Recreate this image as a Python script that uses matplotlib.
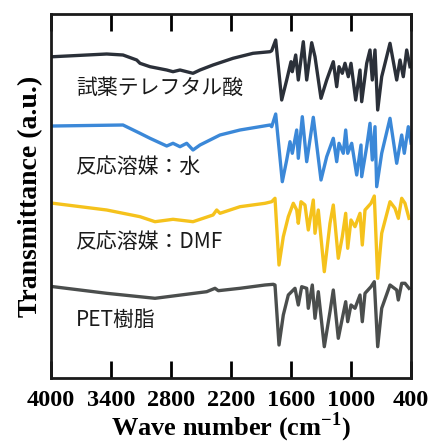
import matplotlib

matplotlib.use("Agg")
import matplotlib.pyplot as plt

# wavenumber (cm-1) / transmittance (a.u., stacked)
tpa_wn = [3977, 3443, 3280, 3143, 3110, 3010, 2843, 2780, 2710, 2643, 2580, 2510, 2380, 2180,
          1980, 1810, 1793, 1753, 1693, 1643, 1600, 1587, 1553, 1527, 1477, 1443, 1393, 1360,
          1300, 1243, 1177, 1143, 1120, 1087, 1060, 1027, 1000, 953, 910, 893, 843, 810, 787,
          760, 733, 693, 610, 543, 510, 477, 443, 410]
tpa_t = [321.3, 324, 323, 318, 314.7, 311.3, 308, 306.3, 308, 306.3, 304.7, 308, 313, 319.7,
         324.7, 326.3, 327.3, 338, 278, 298, 316.3, 306.3, 323, 298, 336.3, 298, 335.3, 321.3,
         279.7, 298, 316.3, 291.3, 311.3, 304.7, 314.7, 301.3, 314.7, 278, 308, 276.3, 314.7,
         328, 298, 328, 268, 301.3, 334.7, 298, 318, 301.3, 328, 311.3]

water_wn = [3977, 3280, 3110, 3010, 2843, 2780, 2710, 2643, 2580, 2510, 2310, 2110, 1810,
            1793, 1753, 1687, 1643, 1610, 1587, 1543, 1527, 1487, 1443, 1377, 1300, 1243,
            1177, 1143, 1120, 1077, 1053, 1033, 993, 943, 900, 893, 843, 810, 787, 760, 743,
            693, 610, 543, 493, 467, 427, 400]
water_t = [252, 253, 244.7, 239.7, 232, 234.7, 231.3, 234.7, 228, 233, 243, 248, 253, 251.3,
           264, 196.3, 218, 236.3, 224.7, 248, 219.7, 261.3, 216.3, 260.7, 198, 221.3, 239.7,
           216.3, 234.7, 224.7, 248, 224.7, 234.7, 203, 233, 201.3, 231.3, 254.7, 218, 251.3,
           191.3, 224.7, 259.7, 214.7, 243, 224.7, 251.3, 235]

dmf_wn = [3977, 3443, 3110, 2960, 2780, 2580, 2380, 2343, 2310, 2110, 1860, 1793, 1760, 1720,
          1677, 1627, 1577, 1543, 1527, 1500, 1460, 1427, 1377, 1360, 1327, 1267, 1210, 1177,
          1127, 1087, 1053, 1033, 1000, 960, 910, 887, 860, 800, 767, 733, 693, 610, 560, 527,
          493, 460, 420]
dmf_t = [174.7, 168, 161.3, 156.3, 158.7, 156.3, 163, 168, 164.7, 171.3, 174.7, 176.3, 179.7,
         113, 141.3, 161.3, 174.7, 168, 154.7, 176.3, 173, 148, 178, 144.7, 168, 106.3, 154.7,
         173, 119.7, 141.3, 164.7, 129.7, 158, 151.3, 164.7, 133, 168, 174.7, 182, 99.7, 144.7,
         176.3, 169.7, 159.7, 179.7, 174.7, 159.7]

pet_wn = [3977, 3443, 2960, 2780, 2443, 2360, 2327, 2110, 1860, 1777, 1760, 1720, 1677, 1627,
          1560, 1527, 1493, 1443, 1427, 1387, 1360, 1327, 1267, 1210, 1177, 1127, 1087, 1053,
          1033, 1000, 960, 910, 887, 860, 800, 767, 733, 693, 610, 543, 527, 493, 460, 420]
pet_t = [91.3, 84.7, 79.7, 82, 86.3, 89.7, 87.3, 89.7, 93, 93.7, 93, 33, 63, 83, 89.7, 73,
         91.3, 89.7, 69.7, 93, 59.7, 86.3, 31.3, 66.3, 88, 39.7, 59.7, 76.3, 56.3, 73, 69.7,
         83, 56.3, 84.7, 91.3, 96.3, 31.3, 69.7, 93, 88, 78, 94.7, 94.7, 89.7]

names = ["試薬テレフタル酸", "反応溶媒：水", "反応溶媒：DMF", "PET樹脂"]
colors = ["#2b3039", "#3b88d8", "#f5c21c", "#4b4e4d"]
label_y = [290, 211, 136, 58]
xticks = [4000, 3400, 2800, 2200, 1600, 1000, 400]

plt.rcParams["mathtext.fontset"] = "custom"
plt.rcParams["mathtext.rm"] = "Liberation Serif:bold"

fig = plt.figure(figsize=(4.32, 4.43), dpi=100)
ax = fig.add_axes([51 / 432, 65 / 443, 360 / 432, 364 / 443])

series = [(tpa_wn, tpa_t), (water_wn, water_t), (dmf_wn, dmf_t), (pet_wn, pet_t)]
for (wn, t), c, name, ly in zip(series, colors, names, label_y):
    ax.plot(wn, t, color=c, lw=2.4, solid_joinstyle="round")
    ax.text(3750, ly, name, fontsize=15, color="#1a1a1a", va="center", ha="left",
            family=["Noto Sans CJK JP", "DejaVu Sans"])

ax.set_xlim(4000, 400)
ax.set_ylim(0, 364)
ax.set_xticks(xticks)
ax.set_yticks([])
ax.tick_params(axis="x", direction="in", length=12, width=2, top=True, pad=9,
               labelsize=17.5)
for lab in ax.get_xticklabels():
    lab.set_family("Liberation Serif")
    lab.set_fontweight("bold")
for s in ax.spines.values():
    s.set_linewidth(2)
    s.set_color("#1a1a1a")

ax.set_xlabel("Wave number (cm$^{-1}$)", family="Liberation Serif", fontweight="bold",
              fontsize=19, labelpad=-1)
ax.set_ylabel("Transmittance (a.u.)", family="Liberation Serif", fontweight="bold",
              fontsize=20, labelpad=6)

fig.savefig("out.png", dpi=100)
